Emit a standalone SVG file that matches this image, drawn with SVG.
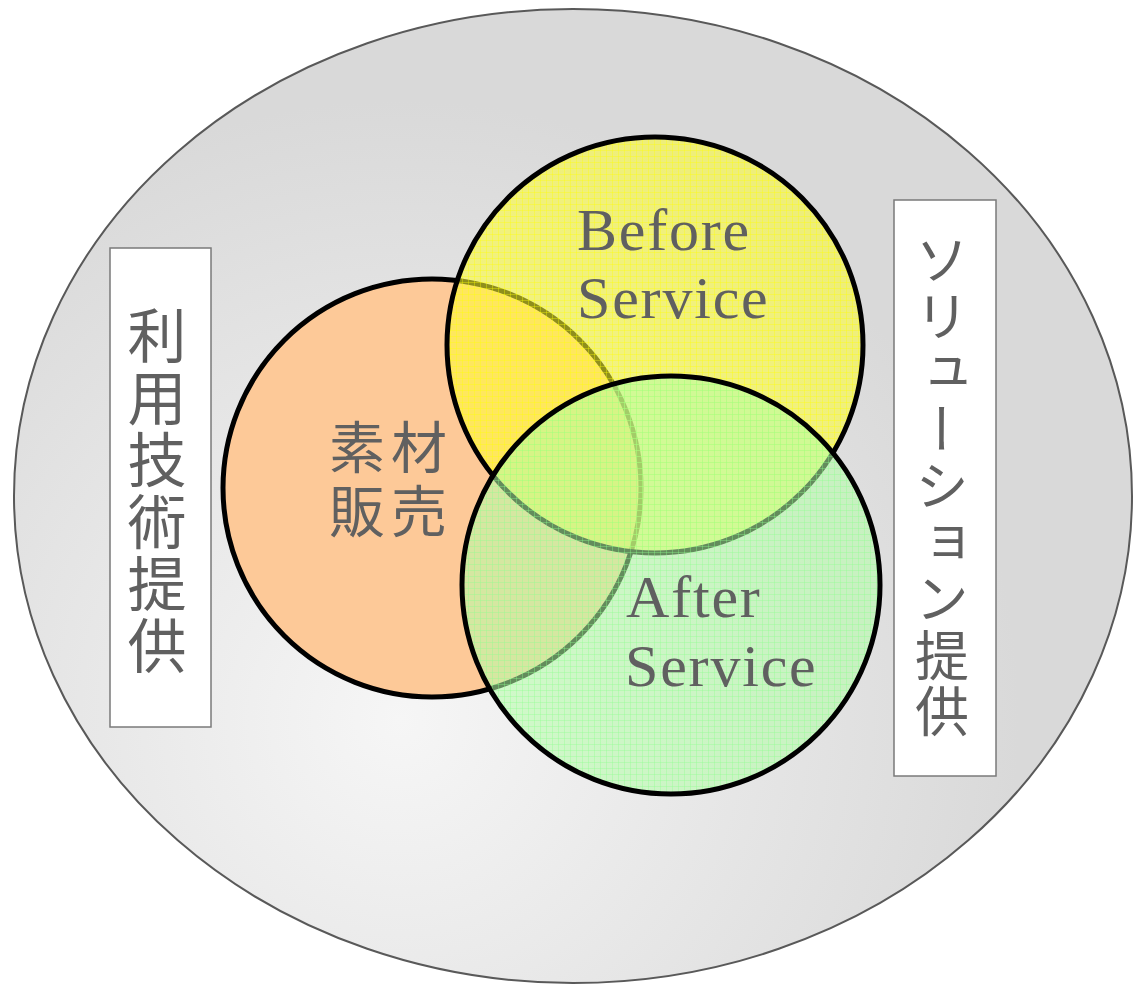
<svg xmlns="http://www.w3.org/2000/svg" width="1133" height="984" viewBox="0 0 1133 984">
<style>
.lbl{font-family:"Liberation Serif","Times New Roman",serif;font-size:60px;letter-spacing:1.8px;fill:#606060}
.cjk{font-family:"Noto Sans CJK JP","Noto Sans",sans-serif;fill:#606060}
.vt{writing-mode:vertical-rl;text-anchor:middle}
.box{fill:#ffffff;stroke:#7a7a7a;stroke-width:1.5}
.ring{stroke:#000;stroke-width:5}
</style>
<defs>
<radialGradient id="bg" gradientUnits="userSpaceOnUse" cx="400" cy="720" r="620">
<stop offset="0" stop-color="#f6f6f6"/>
<stop offset="1" stop-color="#d9d9d9"/>
</radialGradient>
<pattern id="py" width="6" height="6" patternUnits="userSpaceOnUse">
<rect width="6" height="6" fill="#ffff30" fill-opacity="0.56"/>
<path d="M0 0.5H6M0.5 0V6" stroke="#ffff00" stroke-opacity="0.35" stroke-width="1"/>
</pattern>
<pattern id="pg" width="6" height="6" patternUnits="userSpaceOnUse">
<rect width="6" height="6" fill="#b4ffa8" fill-opacity="0.55"/>
<path d="M0 0.5H6M0.5 0V6" stroke="#8cff8c" stroke-opacity="0.35" stroke-width="1"/>
</pattern>
</defs>
<g id="outer">
<ellipse cx="573" cy="496" rx="559" ry="487" fill="url(#bg)" stroke="#595959" stroke-width="2"/>
</g>
<g id="left-box">
<rect class="box" x="110" y="248" width="101" height="479"/>
<text class="cjk vt" x="157" y="492" font-size="59" letter-spacing="3">利用技術提供</text>
</g>
<g id="right-box">
<rect class="box" x="894" y="200" width="102" height="576"/>
<text class="cjk vt" x="942" y="487" font-size="54" letter-spacing="2.5">ソリューション提供</text>
</g>
<g id="sozai">
<circle class="ring" cx="432" cy="488" r="209" fill="#fdc998"/>
</g>
<g id="before">
<circle class="ring" cx="655" cy="345" r="208" fill="url(#py)"/>
</g>
<g id="after">
<circle class="ring" cx="671" cy="585" r="209" fill="url(#pg)"/>
</g>
<g id="labels">
<text class="cjk" font-size="56" text-anchor="middle" letter-spacing="6"><tspan x="391" y="468">素材</tspan><tspan x="391" y="532">販売</tspan></text>
<text class="lbl"><tspan x="577" y="250">Before</tspan><tspan x="577" y="318">Service</tspan></text>
<text class="lbl"><tspan x="626" y="617">After</tspan><tspan x="625" y="686">Service</tspan></text>
</g>
</svg>
